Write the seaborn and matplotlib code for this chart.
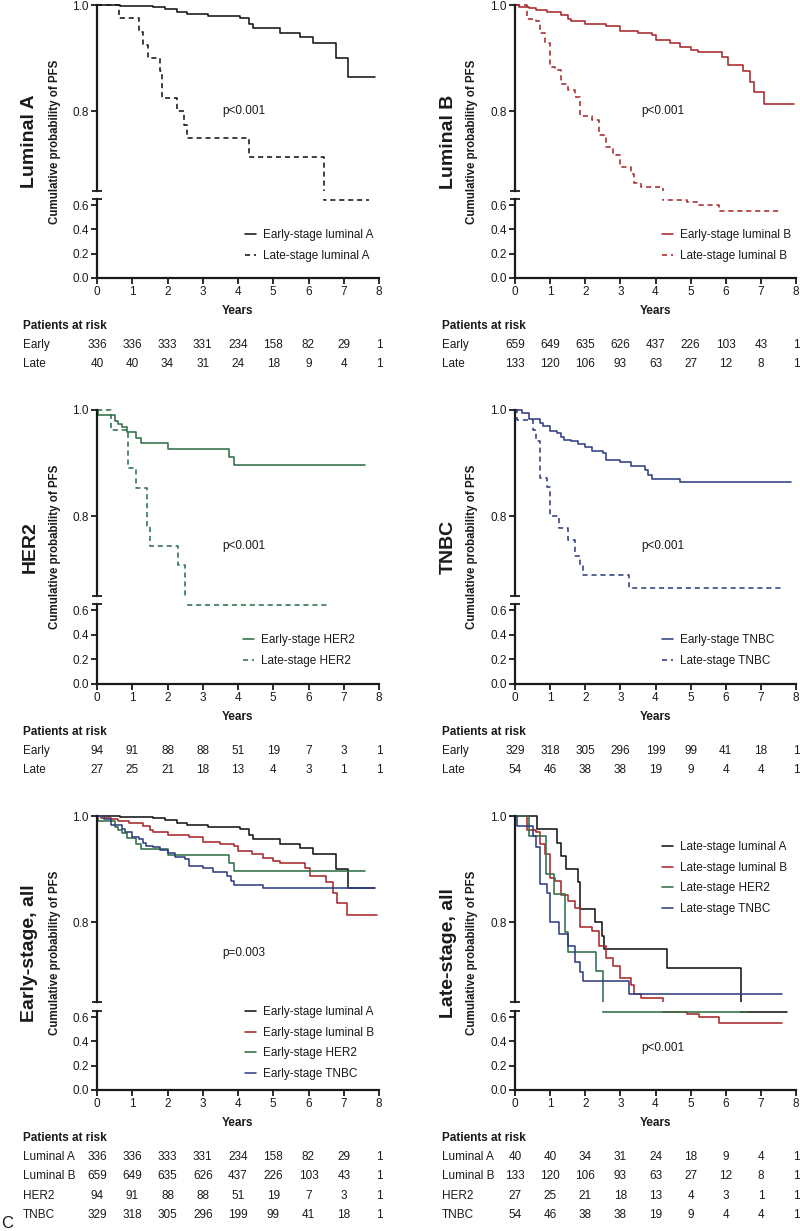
import numpy as np
import pandas as pd
import matplotlib
matplotlib.use("Agg")
import matplotlib.pyplot as plt
import matplotlib.transforms as mtrans
import seaborn as sns

# ---------------- data ----------------
years = [0, 1, 2, 3, 4, 5, 6, 7, 8]

early_lumA_t = [0, 0.65, 1.6, 1.93, 2.26, 2.54, 3.16, 4.06, 4.3, 4.43, 5.2, 5.76, 6.14, 6.77, 7.13, 7.9]
early_lumA_s = [1.0, 0.998, 0.997, 0.992, 0.987, 0.984, 0.979, 0.975, 0.965, 0.956, 0.948, 0.939, 0.928, 0.901, 0.864, 0.864]
late_lumA_t = [0, 0.62, 1.2, 1.3, 1.46, 1.78, 1.84, 2.28, 2.48, 2.54, 4.32, 6.44, 7.73]
late_lumA_s = [1.0, 0.975, 0.95, 0.925, 0.9, 0.875, 0.825, 0.8, 0.775, 0.75, 0.714, 0.638, 0.638]

early_lumB_t = [0, 0.1, 0.4, 0.6, 0.9, 1.3, 1.5, 1.6, 2.0, 2.6, 3.0, 3.5, 3.9, 4.0, 4.4, 4.7, 5.0, 5.2, 5.9, 6.05, 6.5, 6.7, 6.8, 7.1, 7.95]
early_lumB_s = [1.0, 0.997, 0.994, 0.991, 0.986, 0.981, 0.973, 0.969, 0.964, 0.960, 0.952, 0.948, 0.943, 0.935, 0.929, 0.921, 0.915, 0.912, 0.903, 0.887, 0.876, 0.855, 0.836, 0.813, 0.813]
late_lumB_t = [0, 0.35, 0.6, 0.7, 0.85, 1.0, 1.15, 1.3, 1.5, 1.7, 1.85, 2.2, 2.4, 2.6, 2.8, 3.0, 3.3, 3.4, 3.6, 4.2, 4.9, 5.25, 5.8, 7.6]
late_lumB_s = [1.0, 0.973, 0.969, 0.948, 0.928, 0.884, 0.877, 0.852, 0.840, 0.827, 0.792, 0.783, 0.755, 0.733, 0.717, 0.695, 0.682, 0.665, 0.658, 0.645, 0.627, 0.6, 0.553, 0.553]

early_her2_t = [0, 0.02, 0.5, 0.6, 0.7, 0.85, 1.1, 1.25, 2.0, 3.75, 3.9, 7.6]
early_her2_s = [1.0, 0.99, 0.98, 0.974, 0.968, 0.958, 0.947, 0.937, 0.926, 0.912, 0.897, 0.897]
late_her2_t = [0, 0.4, 0.88, 1.12, 1.42, 1.5, 2.3, 2.5, 6.6]
late_her2_s = [1.0, 0.963, 0.891, 0.853, 0.781, 0.745, 0.708, 0.64, 0.64]

early_tnbc_t = [0, 0.2, 0.4, 0.7, 0.8, 1.0, 1.2, 1.3, 1.4, 1.6, 1.8, 2.0, 2.2, 2.5, 2.6, 3.0, 3.3, 3.7, 3.8, 3.9, 4.7, 7.85]
early_tnbc_s = [1.0, 0.994, 0.984, 0.975, 0.969, 0.961, 0.956, 0.95, 0.944, 0.941, 0.936, 0.93, 0.922, 0.919, 0.906, 0.903, 0.895, 0.888, 0.878, 0.87, 0.864, 0.864]
late_tnbc_t = [0, 0.05, 0.5, 0.6, 0.7, 0.9, 1.0, 1.25, 1.5, 1.7, 1.85, 1.95, 3.25, 7.6]
late_tnbc_s = [1.0, 0.982, 0.963, 0.941, 0.872, 0.855, 0.801, 0.778, 0.756, 0.725, 0.706, 0.689, 0.665, 0.665]

risk_lumA_early = [336, 336, 333, 331, 234, 158, 82, 29, 1]
risk_lumA_late = [40, 40, 34, 31, 24, 18, 9, 4, 1]
risk_lumB_early = [659, 649, 635, 626, 437, 226, 103, 43, 1]
risk_lumB_late = [133, 120, 106, 93, 63, 27, 12, 8, 1]
risk_her2_early = [94, 91, 88, 88, 51, 19, 7, 3, 1]
risk_her2_late = [27, 25, 21, 18, 13, 4, 3, 1, 1]
risk_tnbc_early = [329, 318, 305, 296, 199, 99, 41, 18, 1]
risk_tnbc_late = [54, 46, 38, 38, 19, 9, 4, 4, 1]

# ---------------- style ----------------
sns.set_theme(style="ticks")
plt.rcParams["font.family"] = ["Liberation Sans", "DejaVu Sans"]
plt.rcParams["axes.linewidth"] = 1.6
plt.rcParams["text.color"] = "#1a1a1a"

BLACK = "#151515"
RED = "#a8282c"
GREEN = "#2f7047"
BLUE = "#2f3f82"
SOLID = "-"
DASH = (0, (3.2, 2.4))
FS = 8.5

W, H = 800, 1231
fig = plt.figure(figsize=(W / 100, H / 100), dpi=100)


def rect(x0, x1, ytop, ybot):
    return [x0 / W, 1 - ybot / H, (x1 - x0) / W, (ybot - ytop) / H]


COLS = {0: (97, 379, 23, 55, 30), 1: (515, 796, 442, 472, 448)}
ROWS = {0: (5, 191, 199, 278), 1: (410, 596, 604, 684), 2: (816, 1002, 1011, 1090)}

panels = [
    dict(col=0, row=0, title="Luminal A",
         curves=[(early_lumA_t, early_lumA_s, BLACK, SOLID, "Early-stage luminal A"),
                 (late_lumA_t, late_lumA_s, BLACK, DASH, "Late-stage luminal A")],
         p=("p<0.001", "up", 4.17, 0.80), leg=(245, 229),
         table=[("Early", risk_lumA_early), ("Late", risk_lumA_late)]),
    dict(col=1, row=0, title="Luminal B",
         curves=[(early_lumB_t, early_lumB_s, RED, SOLID, "Early-stage luminal B"),
                 (late_lumB_t, late_lumB_s, RED, DASH, "Late-stage luminal B")],
         p=("p<0.001", "up", 4.2, 0.80), leg=(662, 229),
         table=[("Early", risk_lumB_early), ("Late", risk_lumB_late)]),
    dict(col=0, row=1, title="HER2",
         curves=[(early_her2_t, early_her2_s, GREEN, SOLID, "Early-stage HER2"),
                 (late_her2_t, late_her2_s, GREEN, DASH, "Late-stage HER2")],
         p=("p<0.001", "up", 4.17, 0.744), leg=(243, 634),
         table=[("Early", risk_her2_early), ("Late", risk_her2_late)]),
    dict(col=1, row=1, title="TNBC",
         curves=[(early_tnbc_t, early_tnbc_s, BLUE, SOLID, "Early-stage TNBC"),
                 (late_tnbc_t, late_tnbc_s, BLUE, DASH, "Late-stage TNBC")],
         p=("p<0.001", "up", 4.2, 0.744), leg=(662, 634),
         table=[("Early", risk_tnbc_early), ("Late", risk_tnbc_late)]),
    dict(col=0, row=2, title="Early-stage, all",
         curves=[(early_lumA_t, early_lumA_s, BLACK, SOLID, "Early-stage luminal A"),
                 (early_lumB_t, early_lumB_s, RED, SOLID, "Early-stage luminal B"),
                 (early_her2_t, early_her2_s, GREEN, SOLID, "Early-stage HER2"),
                 (early_tnbc_t, early_tnbc_s, BLUE, SOLID, "Early-stage TNBC")],
         p=("p=0.003", "up", 4.17, 0.743), leg=(245, 1006),
         table=[("Luminal A", risk_lumA_early), ("Luminal B", risk_lumB_early),
                ("HER2", risk_her2_early), ("TNBC", risk_tnbc_early)]),
    dict(col=1, row=2, title="Late-stage, all",
         curves=[(late_lumA_t, late_lumA_s, BLACK, SOLID, "Late-stage luminal A"),
                 (late_lumB_t, late_lumB_s, RED, SOLID, "Late-stage luminal B"),
                 (late_her2_t, late_her2_s, GREEN, SOLID, "Late-stage HER2"),
                 (late_tnbc_t, late_tnbc_s, BLUE, SOLID, "Late-stage TNBC")],
         p=("p<0.001", "low", 4.2, 0.345), leg=(662, 841),
         table=[("Luminal A", risk_lumA_late), ("Luminal B", risk_lumB_late),
                ("HER2", risk_her2_late), ("TNBC", risk_tnbc_late)]),
]

UP_TOP = 1.004

for pn in panels:
    x0, x1, lab_x, ylab_x, title_x = COLS[pn["col"]]
    y10, yu_bot, yl_top, y00 = ROWS[pn["row"]]
    ppu = (yu_bot - y10) / 0.35
    ax_up = fig.add_axes(rect(x0, x1, y10 - (UP_TOP - 1.0) * ppu, yu_bot))
    ax_lo = fig.add_axes(rect(x0, x1, yl_top, y00))
    ax_up.patch.set_alpha(0)
    ax_lo.patch.set_alpha(0)

    for ax in (ax_up, ax_lo):
        for t, s, c, ls, lab in pn["curves"]:
            sns.lineplot(x=t, y=s, ax=ax, color=c, linestyle=ls, lw=1.15,
                         drawstyle="steps-post", estimator=None, sort=False,
                         legend=False, label=lab if ax is ax_up else None)
        ax.set_xlim(0, 8)
        ax.set_xlabel("")
        ax.set_ylabel("")
        ax.spines["top"].set_visible(False)
        ax.spines["right"].set_visible(False)
        for sp in ax.spines.values():
            sp.set_color("#1a1a1a")

    # upper axis
    ax_up.set_ylim(0.65, UP_TOP)
    ax_up.spines["bottom"].set_visible(False)
    ax_up.spines["left"].set_bounds(0.65, 1.0)
    ax_up.set_xticks([])
    ax_up.set_yticks([0.8, 1.0])
    ax_up.set_yticklabels(["0.8", "1.0"])
    ax_up.set_yticks([0.65], minor=True)
    # lower axis
    ax_lo.set_ylim(0, 0.65)
    ax_lo.spines["left"].set_bounds(0, 0.65)
    ax_lo.spines["bottom"].set_bounds(0, 8)
    ax_lo.set_yticks([0.0, 0.2, 0.4, 0.6])
    ax_lo.set_yticklabels(["0.0", "0.2", "0.4", "0.6"])
    ax_lo.set_yticks([0.65], minor=True)
    ax_lo.set_xticks(years)
    ax_lo.set_xticklabels([str(v) for v in years])
    for ax in (ax_up, ax_lo):
        ax.tick_params(axis="both", which="major", direction="out", length=4, width=1.3,
                       pad=2, labelsize=FS, colors="#1a1a1a")
        ax.tick_params(axis="y", which="minor", direction="inout", length=7, width=1.3,
                       colors="#1a1a1a")
    ax_lo.tick_params(axis="x", which="minor", bottom=False)

    # p value
    ptxt, where, px, py = pn["p"]
    (ax_up if where == "up" else ax_lo).text(px, py, ptxt, ha="center", va="center", fontsize=FS)

    # legend
    handles, labels = ax_up.get_legend_handles_labels()
    lx, ly = pn["leg"]
    ax_up.legend(handles, labels, loc="upper left", bbox_to_anchor=(lx / W, 1 - ly / H),
                 bbox_transform=fig.transFigure, frameon=False, fontsize=FS,
                 handlelength=0.9, handletextpad=0.6, labelspacing=0.74,
                 borderpad=0, borderaxespad=0)

    # y labels
    cy = 1 - ((y10 + y00) / 2) / H
    fig.text(ylab_x / W, cy, "Cumulative probability of PFS", rotation=90, ha="center",
             va="center", fontsize=8.3, fontweight="bold")
    fig.text(title_x / W, cy, pn["title"], rotation=90, ha="center", va="center",
             fontsize=14, fontweight="bold")

    # risk table
    tr = mtrans.blended_transform_factory(ax_lo.transData, fig.transFigure)
    ax_lo.text(4, 1 - (y00 + 33) / H, "Years", transform=tr, ha="center", va="center",
               fontsize=FS, fontweight="bold")
    fig.text(lab_x / W, 1 - (y00 + 48) / H, "Patients at risk", ha="left", va="center",
             fontsize=FS, fontweight="bold")
    for i, (rl, vals) in enumerate(pn["table"]):
        yy = 1 - (y00 + 67 + 19.4 * i) / H
        fig.text(lab_x / W, yy, rl, ha="left", va="center", fontsize=FS)
        for xv, v in zip(years, vals):
            ax_lo.text(xv, yy, str(v), transform=tr, ha="center", va="center", fontsize=FS,
                       clip_on=False)

fig.text(1 / W, 1 - 1224 / H, "C", ha="left", va="center", fontsize=12)

fig.savefig("out.png", dpi=100)
